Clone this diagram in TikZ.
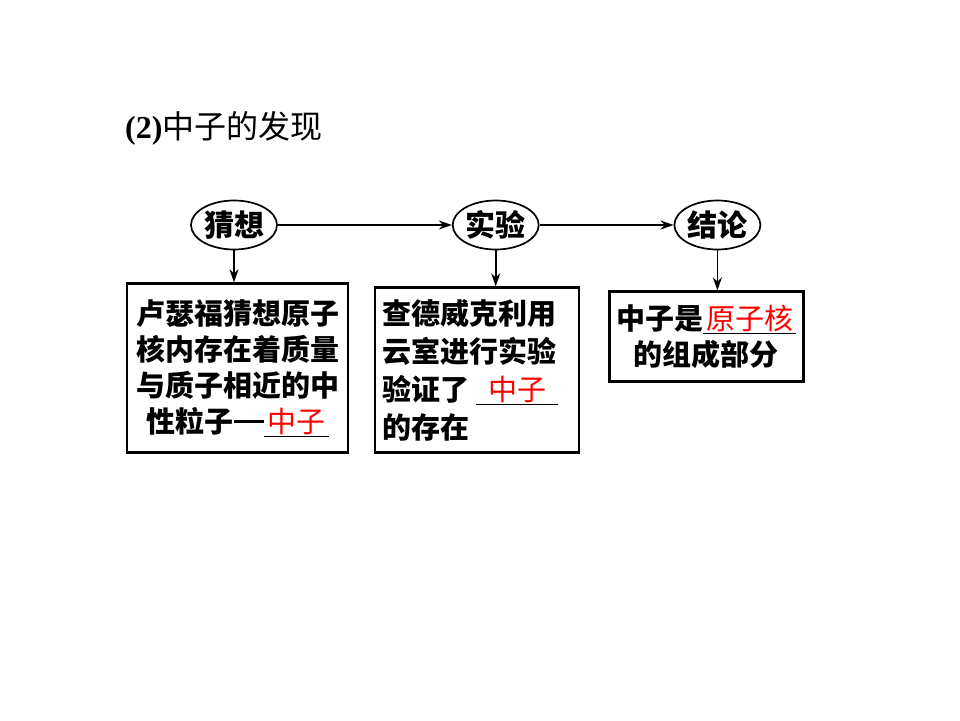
\documentclass[tikz,border=0pt]{standalone}
\usepackage{fontspec}
\setmainfont{Liberation Serif}
\newfontfamily\cjk{Noto Sans CJK SC}
\usepackage{tikz}
\usetikzlibrary{shapes, arrows.meta, positioning}

\newcommand\blank[2]{\underline{\makebox[#1]{\textcolor{red}{\mdseries #2}}}}
\newcommand\longdash{\rule[0.32em]{30pt}{2.6pt}}

\begin{document}
\begin{tikzpicture}[
    x=1pt, y=-1pt,
    node distance=32pt and 174pt,
    oval/.style={ellipse, draw, line width=1.7pt, minimum width=86pt, minimum height=49pt, inner sep=0pt, font=\cjk\bfseries\fontsize{30}{30}\selectfont},
    card/.style={rectangle, draw, line width=2.4pt, inner sep=7pt, font=\cjk\bfseries\fontsize{29}{36}\selectfont},
    arr/.style={draw, line width=1.8pt, -{Stealth[length=13pt,width=9pt]}}
]
\useasboundingbox (0,0) rectangle (960,720);

% Title
\node[anchor=west, inner sep=0pt] (title) at (125,128) {\fontsize{32}{32}\selectfont\textbf{(2)}\cjk 中子的发现};

% Top row
\node[oval] (cai) at (234,225) {猜想};
\node[oval, right=174pt of cai] (shi) {实验};
\node[oval, right=134pt of shi] (jie) {结论};

% Boxes below
\node[card, below=32pt of cai, xshift=3.5pt, text width=207pt, minimum height=169pt, align=center] (b1) {卢瑟福猜想原子\\核内存在着质量\\与质子相近的中\\性粒子\longdash\blank{65pt}{中子}};
\node[card, below=36pt of shi, xshift=-18.5pt, text width=190pt, minimum height=165pt, align=left, font=\cjk\bfseries\fontsize{29}{38}\selectfont] (b2) {查德威克利用\\云室进行实验\\验证了\hspace{7pt}\blank{82pt}{中子}\\的存在};
\node[card, below=40pt of jie, xshift=-11pt, text width=180pt, minimum height=90pt, align=center] (b3) {中子是\blank{93pt}{原子核}\\的组成部分};

% Draw lines
\draw[arr] (cai) -- (shi);
\draw[arr] (shi) -- (jie);
\draw[arr] (cai) -- (cai |- b1.north);
\draw[arr] (shi) -- (shi |- b2.north);
\draw[arr] (jie) -- (jie |- b3.north);
\end{tikzpicture}
\end{document}
